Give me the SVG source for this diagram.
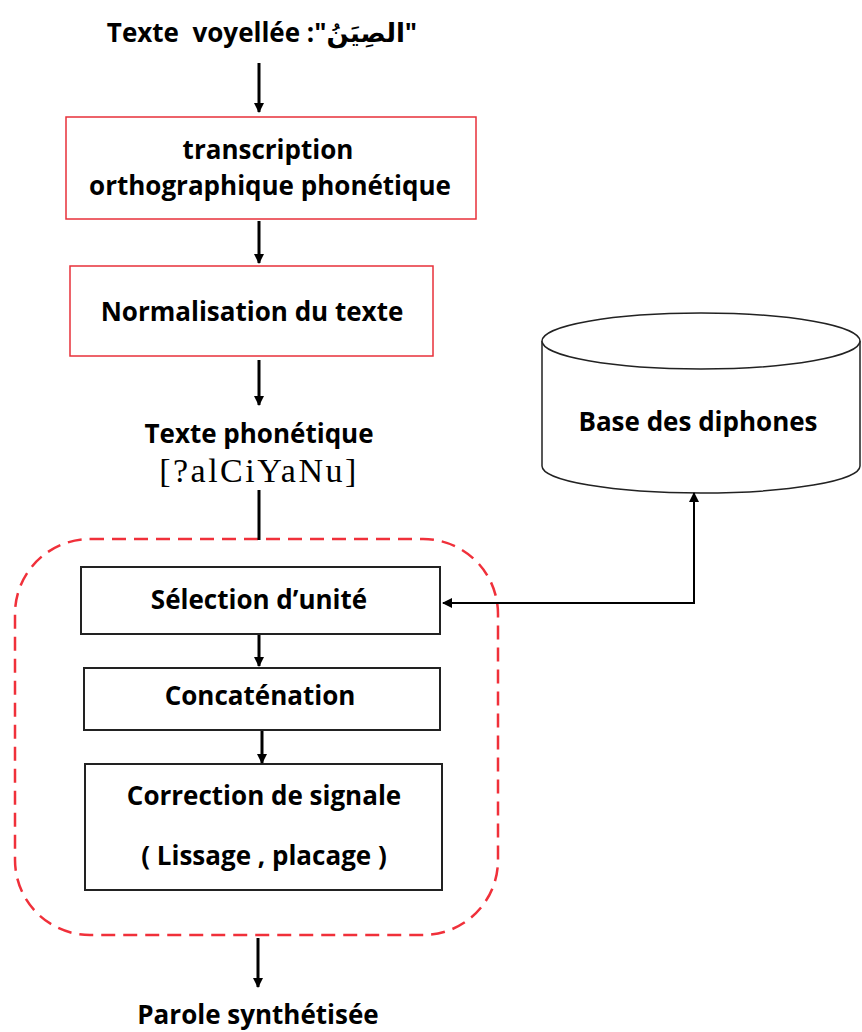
<svg xmlns="http://www.w3.org/2000/svg" width="862" height="1032" viewBox="0 0 862 1032">
<defs>
<marker id="ah" viewBox="0 0 10 10" refX="9" refY="5" markerWidth="10" markerHeight="10" markerUnits="userSpaceOnUse" orient="auto-start-reverse"><path d="M0,0 L10,5 L0,10 z" fill="#000"/></marker>
<style>
.t{font-family:"Open Sans","Liberation Sans",sans-serif;font-weight:bold;font-size:26px;fill:#000;text-anchor:middle}
.red{fill:#fff;stroke:#e8303a;stroke-width:1.5}
.blk{fill:#fff;stroke:#222;stroke-width:2}
.c{stroke:#000;stroke-width:3;fill:none}
.c2{stroke:#000;stroke-width:2;fill:none}
</style>
</defs>
<rect width="862" height="1032" fill="#fff"/>
<g id="group">
<rect x="15" y="539" width="483" height="396" rx="75" ry="75" fill="none" stroke="#f0303a" stroke-width="2.5" stroke-dasharray="14,8"/>
</g>
<g id="input"><text class="t" x="262" y="42" style="white-space:pre">Texte  voyellée :"<tspan font-family="'Noto Sans','DejaVu Sans',sans-serif" font-size="26">الصِيَنُ</tspan>"</text></g>
<g id="transcription">
<rect class="red" x="66" y="117" width="410" height="102"/>
<text class="t" x="268" y="159">transcription</text>
<text class="t" x="270" y="195">orthographique phonétique</text>
</g>
<g id="normalisation">
<rect class="red" x="70" y="266" width="363" height="90"/>
<text class="t" x="252" y="321">Normalisation du texte</text>
</g>
<g id="phonetique">
<text class="t" x="259" y="443">Texte phonétique</text>
<text x="259" y="482" font-family="'Liberation Serif',serif" font-size="34" letter-spacing="2.5" text-anchor="middle" fill="#000">[?alCiYaNu]</text>
</g>
<g id="selection">
<rect class="blk" x="81" y="567" width="359" height="67"/>
<text class="t" x="259" y="609">Sélection d’unité</text>
</g>
<g id="concatenation">
<rect class="blk" x="84" y="668" width="356" height="62"/>
<text class="t" x="260" y="705">Concaténation</text>
</g>
<g id="correction">
<rect class="blk" x="85" y="764" width="357" height="126"/>
<text class="t" x="264" y="805">Correction de signale</text>
<text class="t" x="264" y="865">( Lissage , placage )</text>
</g>
<g id="base">
<path d="M542,341 L542,466 A159,27 0 0 0 860,466 L860,341" fill="#fff" stroke="#222" stroke-width="1.5"/>
<ellipse cx="701" cy="341" rx="159" ry="28" fill="#fff" stroke="#222" stroke-width="1.5"/>
<text class="t" x="698" y="431">Base des diphones</text>
</g>
<g id="parole"><text class="t" x="258" y="1024">Parole synthétisée</text></g>
<g id="connectors">
<line class="c" x1="259" y1="63" x2="259" y2="112" marker-end="url(#ah)"/>
<line class="c" x1="259" y1="221" x2="259" y2="263" marker-end="url(#ah)"/>
<line class="c" x1="259" y1="360" x2="259" y2="405" marker-end="url(#ah)"/>
<line class="c" x1="259" y1="490" x2="259" y2="540"/>
<line class="c" x1="259" y1="635" x2="259" y2="666" marker-end="url(#ah)"/>
<line class="c" x1="262" y1="731" x2="262" y2="763" marker-end="url(#ah)"/>
<line class="c" x1="258" y1="938" x2="258" y2="987" marker-end="url(#ah)"/>
<polyline class="c2" points="694,493 694,603 443,603" marker-start="url(#ah)" marker-end="url(#ah)"/>
</g>
</svg>
